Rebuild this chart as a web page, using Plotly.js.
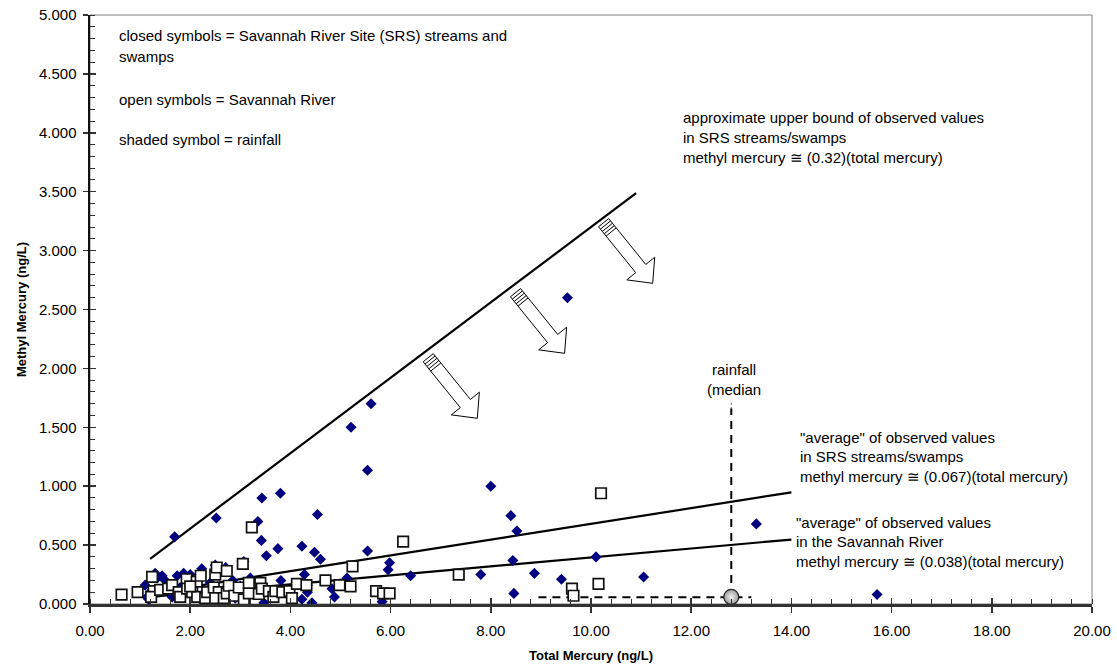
<!DOCTYPE html>
<html>
<head>
<meta charset="utf-8">
<script src="https://cdn.plot.ly/plotly-3.0.1.min.js"></script>
<style>html,body{margin:0;padding:0;background:#fff;}</style>
</head>
<body>
<div id="chart" style="width:1117px;height:668px;"></div>
<script>
// SRS streams and swamps (closed symbols)
const srsTotal  = [1.10,1.14,1.17,1.30,1.34,1.44,1.50,1.64,1.69,1.74,1.87,1.80,1.95,2.05,2.23,2.24,2.36,2.50,2.52,2.40,
                   2.71,2.60,2.85,3.07,3.00,3.20,3.35,3.42,3.43,3.38,3.47,3.52,3.75,3.80,3.81,3.90,4.23,4.28,4.34,4.34,
                   4.23,4.43,4.48,4.54,4.60,4.83,4.88,5.13,5.21,5.54,5.54,5.61,5.83,5.95,5.98,6.40,7.80,8.00,8.40,8.44,
                   8.46,8.52,8.87,9.41,9.53,10.10,11.05,13.30,15.71,1.20,2.00,2.90];
const srsMethyl = [0.16,0.06,0.04,0.26,0.22,0.24,0.20,0.06,0.57,0.24,0.26,0.14,0.18,0.12,0.30,0.04,0.00,0.33,0.73,0.18,
                   0.31,0.10,0.20,0.36,0.15,0.22,0.70,0.54,0.90,0.14,0.01,0.41,0.47,0.94,0.20,0.12,0.49,0.25,0.16,0.10,
                   0.04,0.01,0.44,0.76,0.38,0.13,0.06,0.22,1.50,1.135,0.45,1.70,0.02,0.29,0.35,0.24,0.25,1.00,0.75,0.37,
                   0.09,0.62,0.26,0.21,2.60,0.40,0.23,0.68,0.08,0.10,0.25,0.05];

// Savannah River (open symbols)
const riverTotal  = [0.63,0.95,1.24,1.27,1.22,1.40,1.56,1.64,1.77,1.80,1.93,1.94,2.04,2.13,2.14,2.21,2.30,2.34,2.47,2.50,
                     2.53,2.57,2.50,2.67,2.73,2.73,2.77,2.88,2.97,3.05,3.07,3.17,3.17,3.23,3.37,3.40,3.43,3.57,3.66,3.70,
                     3.84,3.98,4.03,4.13,4.32,4.70,4.98,5.20,5.24,5.71,5.85,5.98,6.25,7.36,9.62,9.65,10.15,10.20,2.00];
const riverMethyl = [0.08,0.10,0.23,0.11,0.06,0.12,0.13,0.16,0.10,0.06,0.21,0.13,0.10,0.19,0.06,0.24,0.05,0.10,0.14,0.25,
                     0.31,0.10,0.05,0.05,0.28,0.09,0.155,0.07,0.14,0.34,0.04,0.09,0.18,0.65,0.085,0.18,0.13,0.11,0.06,0.11,
                     0.10,0.11,0.05,0.17,0.16,0.20,0.16,0.15,0.32,0.11,0.09,0.09,0.53,0.25,0.13,0.07,0.17,0.94,0.15];

// Rainfall median (shaded symbol)
const rainTotal  = [12.8];
const rainMethyl = [0.06];

// Reference lines: methyl mercury = slope * total mercury
const fitSlopes  = [0.32, 0.067, 0.038];
const fitOffsets = [0.0, 0.01, 0.015];
const fitStart   = [1.2, 1.2, 1.2];
const fitEnd     = [10.9, 14.0, 14.0];

// Axis ticks
const xTickVals = [0,2,4,6,8,10,12,14,16,18,20];
const xTickText = ['0.00','2.00','4.00','6.00','8.00','10.00','12.00','14.00','16.00','18.00','20.00'];
const yTickVals = [0,0.5,1,1.5,2,2.5,3,3.5,4,4.5,5];
const yTickText = ['0.000','0.500','1.000','1.500','2.000','2.500','3.000','3.500','4.000','4.500','5.000'];

// Plot frame in pixels
const M = {l:90, r:25, t:15, b:64};
const W = 1117, H = 668;
const PW = W - M.l - M.r, PH = H - M.t - M.b;
const px2x = p => (p - M.l) / PW * 20;
const py2y = p => (H - M.b - p) / PH * 5;

const FONT = 'Liberation Sans, Arial, sans-serif';

const traces = [];

// reference lines
fitSlopes.forEach((k, i) => {
  const xs = [fitStart[i], fitEnd[i]];
  traces.push({
    x: xs, y: xs.map(v => k * v + fitOffsets[i]),
    mode: 'lines', line: {color: '#000', width: 2.2},
    hoverinfo: 'skip', showlegend: false
  });
});

// rainfall median guide lines
traces.push({
  x: [rainTotal[0], rainTotal[0]], y: [rainMethyl[0], 1.66],
  mode: 'lines', line: {color: '#000', width: 2, dash: '8px,6px'},
  hoverinfo: 'skip', showlegend: false
});
traces.push({
  x: [rainTotal[0], rainTotal[0]], y: [1.66, 1.71],
  mode: 'lines', line: {color: '#000', width: 1, dash: '1px,3px'},
  hoverinfo: 'skip', showlegend: false
});
traces.push({
  x: [8.95, 13.2], y: [rainMethyl[0] - 0.003, rainMethyl[0] - 0.003],
  mode: 'lines', line: {color: '#000', width: 2, dash: '8px,6px'},
  hoverinfo: 'skip', showlegend: false
});

traces.push({
  x: srsTotal, y: srsMethyl, mode: 'markers', name: 'SRS streams and swamps',
  marker: {symbol: 'diamond', size: 8.5, color: '#000080', line: {width: 0}},
  showlegend: false
});
traces.push({
  x: riverTotal, y: riverMethyl, mode: 'markers', name: 'Savannah River',
  marker: {symbol: 'square', size: 10.5, color: '#fff', line: {width: 1.7, color: '#111'}},
  showlegend: false
});
traces.push({
  x: rainTotal, y: rainMethyl, mode: 'markers', name: 'rainfall',
  marker: {symbol: 'circle', size: 15, color: '#9a9a9a',
           gradient: {type: 'radial', color: '#f4f4f4'},
           line: {width: 1.2, color: '#222'}},
  showlegend: false
});
// carrier for the overlay axes that draw the inner half of the major ticks
traces.push({x: [], y: [], xaxis: 'x2', yaxis: 'y2', mode: 'markers', showlegend: false, hoverinfo: 'skip'});

// hollow block arrow pointing down-right, tip at the anchor (pixel units)
function arrowPath() {
  const th = 51 * Math.PI / 180, L = 78, h = 19, Hh = 18, s = 6.5;
  const d = [Math.cos(th), -Math.sin(th)], n = [Math.sin(th), Math.cos(th)];
  const P = (u, v) => {
    const x = (u - L) * d[0] + v * n[0];
    const y = (u - L) * d[1] + v * n[1];
    return x.toFixed(2) + ',' + y.toFixed(2);
  };
  let p = 'M' + P(0, -s) + 'L' + P(L - h, -s) + 'L' + P(L - h, -Hh) + 'L' + P(L, 0) +
          'L' + P(L - h, Hh) + 'L' + P(L - h, s) + 'L' + P(0, s) + 'Z';
  [3, 6, 9, 12].forEach(u => { p += 'M' + P(u, -s) + 'L' + P(u, s); });
  return p;
}
const arrowTips = [[477.3, 418.3], [564.6, 353.3], [652.7, 283.3]];

const shapes = [
  // light frame on top and right
  {type: 'rect', xref: 'paper', yref: 'paper', x0: 0, x1: 1, y0: 0, y1: 1,
   line: {color: '#808080', width: 1}, layer: 'below'}
];
arrowTips.forEach(t => {
  shapes.push({
    type: 'path', xref: 'x', yref: 'y',
    xsizemode: 'pixel', ysizemode: 'pixel',
    xanchor: px2x(t[0]), yanchor: py2y(t[1]),
    path: arrowPath(),
    fillcolor: '#fff', line: {color: '#000', width: 1}
  });
});

function label(text, px, py, anchor) {
  return {text: text, xref: 'x', yref: 'y', x: px2x(px), y: py2y(py),
          xanchor: anchor || 'left', yanchor: 'middle', showarrow: false,
          font: {family: FONT, size: 15, color: '#000'}};
}
const annotations = [
  label('closed symbols = Savannah River Site (SRS) streams and', 117, 35),
  label('swamps', 117, 56),
  label('open symbols = Savannah River', 117, 99),
  label('shaded symbol = rainfall', 117, 139),
  label('approximate upper bound of observed values', 681, 117),
  label('in SRS streams/swamps', 681, 137),
  label('methyl mercury \u2245 (0.32)(total mercury)', 681, 157),
  label('rainfall', 734, 369, 'center'),
  label('(median', 734, 389, 'center'),
  label('"average" of observed values', 798, 437),
  label('in SRS streams/swamps', 798, 456),
  label('methyl mercury \u2245 (0.067)(total mercury)', 798, 476),
  label('"average" of observed values', 794, 522),
  label('in the Savannah River', 794, 541),
  label('methyl mercury \u2245 (0.038)(total mercury)', 794, 561)
];

const tickFont = {family: FONT, size: 15, color: '#000'};
const layout = {
  width: W, height: H,
  margin: M,
  paper_bgcolor: '#fff', plot_bgcolor: '#fff',
  showlegend: false,
  font: {family: FONT, size: 13, color: '#000'},
  xaxis: {
    range: [0, 20], tickvals: xTickVals, ticktext: xTickText,
    ticks: 'outside', ticklen: 6, tickwidth: 1.5, tickcolor: '#333',
    minor: {dtick: 0.4, ticks: 'inside', ticklen: 5, tickwidth: 1, tickcolor: '#333', showgrid: false},
    showgrid: false, zeroline: false, showline: true, linecolor: '#333', linewidth: 2.5,
    tickfont: tickFont, ticklabelstandoff: 5,
    title: {text: '<b>Total Mercury (ng/L)</b>', font: {family: FONT, size: 13, color: '#000'}, standoff: 14}
  },
  yaxis: {
    range: [0, 5], tickvals: yTickVals, ticktext: yTickText,
    ticks: 'outside', ticklen: 5, tickwidth: 1.5, tickcolor: '#333',
    minor: {dtick: 0.1, ticks: 'inside', ticklen: 5, tickwidth: 1, tickcolor: '#333', showgrid: false},
    showgrid: false, zeroline: false, showline: true, linecolor: '#111', linewidth: 2.5,
    tickfont: tickFont, ticklabelstandoff: 3,
    title: {text: '<b>Methyl Mercury (ng/L)</b>', font: {family: FONT, size: 13, color: '#000'}, standoff: 10}
  },
  xaxis2: {
    overlaying: 'x', anchor: 'y2', side: 'bottom', range: [0, 20], tickvals: xTickVals,
    ticks: 'inside', ticklen: 6, tickwidth: 1.5, tickcolor: '#333',
    showticklabels: false, showgrid: false, zeroline: false, showline: false
  },
  yaxis2: {
    overlaying: 'y', anchor: 'x2', side: 'left', range: [0, 5], tickvals: yTickVals,
    ticks: 'inside', ticklen: 6, tickwidth: 1.5, tickcolor: '#333',
    showticklabels: false, showgrid: false, zeroline: false, showline: false
  },
  shapes: shapes,
  annotations: annotations
};

Plotly.newPlot('chart', traces, layout, {displayModeBar: false, staticPlot: true});
</script>
</body>
</html>
